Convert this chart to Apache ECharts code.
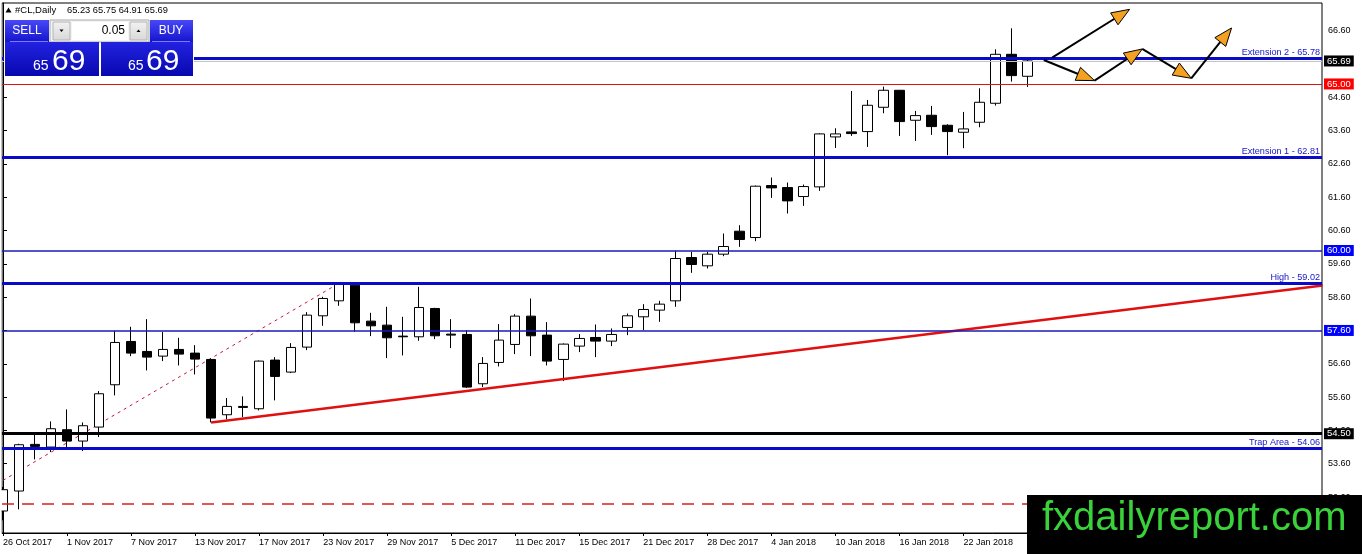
<!DOCTYPE html>
<html><head><meta charset="utf-8">
<script src="https://cdn.jsdelivr.net/npm/echarts@6/dist/echarts.min.js"></script>
<style>html,body{margin:0;padding:0;background:#fff;}#c{width:1362px;height:554px;}</style>
</head><body><div id="c"></div>
<script>
const dates = ['26 Oct 2017','27 Oct 2017','30 Oct 2017','31 Oct 2017','1 Nov 2017','2 Nov 2017','3 Nov 2017','6 Nov 2017','7 Nov 2017','8 Nov 2017','9 Nov 2017','10 Nov 2017','13 Nov 2017','14 Nov 2017','15 Nov 2017','16 Nov 2017','17 Nov 2017','20 Nov 2017','21 Nov 2017','22 Nov 2017','23 Nov 2017','24 Nov 2017','27 Nov 2017','28 Nov 2017','29 Nov 2017','30 Nov 2017','1 Dec 2017','4 Dec 2017','5 Dec 2017','6 Dec 2017','7 Dec 2017','8 Dec 2017','11 Dec 2017','12 Dec 2017','13 Dec 2017','14 Dec 2017','15 Dec 2017','18 Dec 2017','19 Dec 2017','20 Dec 2017','21 Dec 2017','22 Dec 2017','26 Dec 2017','27 Dec 2017','28 Dec 2017','29 Dec 2017','2 Jan 2018','3 Jan 2018','4 Jan 2018','5 Jan 2018','8 Jan 2018','9 Jan 2018','10 Jan 2018','11 Jan 2018','12 Jan 2018','15 Jan 2018','16 Jan 2018','17 Jan 2018','18 Jan 2018','19 Jan 2018','22 Jan 2018','23 Jan 2018','24 Jan 2018','25 Jan 2018','26 Jan 2018'];
const opens  = [52.18,52.78,54.18,54.10,54.62,54.28,54.70,55.97,57.27,56.97,56.83,57.03,56.92,56.73,55.07,55.32,55.25,56.71,56.35,57.10,58.04,58.49,58.96,57.88,57.76,57.43,57.41,58.26,57.49,57.48,56.00,56.64,57.18,58.03,57.46,56.73,57.13,57.39,57.28,57.69,58.01,58.21,58.49,59.79,59.54,59.89,60.58,60.39,61.95,61.89,61.62,61.91,63.41,63.56,63.57,64.30,64.81,63.91,64.06,63.76,63.55,63.85,64.42,65.89,65.23];
const closes = [52.82,54.17,54.12,54.65,54.28,54.74,55.70,57.24,56.92,56.80,57.03,56.89,56.74,54.97,55.32,55.29,56.68,56.22,57.09,58.06,58.56,58.99,57.83,57.74,57.38,57.41,58.29,57.44,57.46,55.90,56.61,57.31,58.03,57.44,56.68,57.19,57.36,57.28,57.48,58.04,58.23,58.39,59.76,59.58,59.89,60.12,60.33,61.93,61.88,61.49,61.92,63.50,63.50,63.51,64.36,64.81,63.87,64.05,63.72,63.57,63.65,64.45,65.89,65.25,65.69];
const lows   = [51.90,52.23,53.73,53.95,54.05,53.98,54.40,55.65,56.83,56.40,56.68,56.55,56.28,54.84,54.93,55.00,55.20,55.50,56.32,57.01,57.74,58.34,57.56,57.43,56.77,56.85,57.29,57.34,57.07,55.87,55.90,56.52,56.89,56.83,56.55,56.08,56.95,56.80,57.13,57.46,57.61,57.86,58.31,59.33,59.46,59.83,60.11,60.28,61.58,61.11,61.34,61.79,63.08,63.44,63.11,64.12,63.44,63.29,63.47,62.86,63.07,63.70,64.35,65.07,64.91];
const highs  = [52.90,54.20,54.50,54.87,55.23,54.84,55.78,57.59,57.71,57.94,57.55,57.38,57.16,56.76,55.57,55.62,56.70,56.80,57.22,58.15,58.61,59.02,59.00,58.13,58.31,58.01,58.91,58.28,57.94,57.61,56.80,57.79,58.09,58.56,57.85,57.21,57.49,57.78,57.66,58.11,58.39,58.49,59.99,59.96,59.96,60.51,60.76,61.95,62.19,62.04,61.98,63.52,63.67,64.79,64.52,64.92,64.82,64.19,64.34,63.79,64.16,64.87,66.04,66.67,65.75];

const yTickValues = [52.6,53.6,54.6,55.6,56.6,57.6,58.6,59.6,60.6,61.6,62.6,63.6,64.6,65.6,66.6];
const xLabelIdx = [0,4,8,12,16,20,24,28,32,36,40,44,48,52,56,60];
const xTickIdx = [0,4,8,12,16,20,24,28,32,36,40,44,48,52,56,60,64,68,72,76,80];

const levelValues = [65.78, 65.69, 65.00, 62.81, 60.00, 59.02, 57.60, 54.50, 54.06, 52.41];
const levelNames  = ['Extension 2 - 65.78','','','Extension 1 - 62.81','','High - 59.02','','','Trap Area - 54.06',''];

const trendX = [13, 82.44];
const trendY = [54.84, 58.95];
const dotX = [0, 21];
const dotY = [53.10, 59.02];

const arrowSegments = [
  [65.54, 65.79, 70.38, 67.24],
  [65.02, 65.72, 68.19, 65.10],
  [68.19, 65.10, 71.17, 66.05],
  [71.17, 66.05, 74.23, 65.17],
  [74.23, 65.17, 76.75, 66.68]
];

const symbolName = '#CL,Daily';

// ---- build series data from arrays ----
const candleData = dates.map((d, i) => [i, opens[i], closes[i], lows[i], highs[i]]);
const trendData = trendX.map((x, i) => [x, trendY[i]]);
const dotData = dotX.map((x, i) => [x, dotY[i]]);
const last = candleData.length - 1;
const headerText = [opens[last], highs[last], lows[last], closes[last]].map(v => v.toFixed(2)).join(' ');
const lastStr = closes[last].toFixed(2).split('.');

const FONT = '"Liberation Sans", Arial, sans-serif';
const BLUE = '#0a0acb';
const THINBLUE = '#1b1bb8';

// level styles (by index into levelValues)
const levelStyle = [
  {color: BLUE, width: 3, type: 'solid', box: null},
  {color: '#c4c4c4', width: 1, type: 'solid', box: '#000000'},
  {color: '#d81414', width: 1, type: 'solid', box: '#ff0000'},
  {color: BLUE, width: 3, type: 'solid', box: null},
  {color: THINBLUE, width: 1.5, type: 'solid', box: '#0000ff'},
  {color: BLUE, width: 3, type: 'solid', box: null},
  {color: THINBLUE, width: 1.5, type: 'solid', box: '#0000ff'},
  {color: '#000000', width: 3, type: 'solid', box: '#000000'},
  {color: BLUE, width: 3, type: 'solid', box: null},
  {color: '#d42020', width: 1.5, type: [12, 8], box: null}
];

const markLineData = levelValues.map((v, i) => {
  const st = levelStyle[i];
  const item = {
    yAxis: v,
    lineStyle: {color: st.color, width: st.width, type: st.type},
    label: {show: false}
  };
  if (st.box) {
    item.label = {
      show: true, position: 'end', distance: 2,
      formatter: v.toFixed(2),
      color: '#ffffff', backgroundColor: st.box,
      padding: [1, 3, 0, 3], fontSize: 9.5, fontFamily: FONT
    };
  } else if (levelNames[i]) {
    item.label = {
      show: true, position: 'insideEndTop', distance: [2, 1],
      formatter: levelNames[i], color: '#1515c8', fontSize: 9.1, fontFamily: FONT
    };
  }
  return item;
});

const chart = echarts.init(document.getElementById('c'), null, {renderer: 'canvas'});

function grad(c1, c2) {
  return new echarts.graphic.LinearGradient(0, 0, 0, 1, [{offset: 0, color: c1}, {offset: 1, color: c2}]);
}

const graphics = [
  // white margin left of the plot frame (hides the partial first candle outside the frame)
  {type: 'rect', z: 50, shape: {x: 0, y: 0, width: 1.5, height: 554}, style: {fill: '#ffffff'}},
  // header
  {type: 'polygon', z: 100, shape: {points: [[5.5, 12.5], [8.5, 7.5], [11.5, 12.5]]}, style: {fill: '#000'}},
  {type: 'text', z: 100, x: 15, y: 10, style: {text: symbolName, font: '9.5px ' + FONT, fill: '#000', textVerticalAlign: 'middle'}},
  {type: 'text', z: 100, x: 67, y: 10, style: {text: headerText, font: '9.3px ' + FONT, fill: '#000', textVerticalAlign: 'middle'}},
  // backing
  {type: 'rect', z: 99, shape: {x: 4, y: 19, width: 190, height: 58}, style: {fill: '#ffffff'}},
  // SELL button
  {type: 'rect', z: 100, shape: {x: 5, y: 20, width: 44, height: 22}, style: {fill: grad('#4848f8', '#1414cc')}},
  {type: 'line', z: 101, shape: {x1: 10, y1: 41.5, x2: 48, y2: 41.5}, style: {stroke: '#7a7aff', lineWidth: 1}},
  {type: 'text', z: 101, x: 27, y: 31, style: {text: 'SELL', font: '12px ' + FONT, fill: '#fff', textAlign: 'center', textVerticalAlign: 'middle'}},
  // spin control
  {type: 'rect', z: 100, shape: {x: 50, y: 20, width: 99, height: 22}, style: {fill: '#f4f4f4', stroke: '#a8a8a8', lineWidth: 1}},
  {type: 'rect', z: 101, shape: {x: 53, y: 22, width: 17, height: 18}, style: {fill: grad('#f2f2f2', '#d8d8d8'), stroke: '#b4b4b4', lineWidth: 1}},
  {type: 'rect', z: 101, shape: {x: 72, y: 22, width: 56, height: 18}, style: {fill: '#ffffff'}},
  {type: 'rect', z: 101, shape: {x: 130, y: 22, width: 17, height: 18}, style: {fill: grad('#f2f2f2', '#d8d8d8'), stroke: '#b4b4b4', lineWidth: 1}},
  {type: 'polygon', z: 102, shape: {points: [[59.5, 29.5], [63.5, 29.5], [61.5, 32]]}, style: {fill: '#000'}},
  {type: 'polygon', z: 102, shape: {points: [[136.5, 32], [140.5, 32], [138.5, 29.5]]}, style: {fill: '#000'}},
  {type: 'text', z: 102, x: 125, y: 31, style: {text: '0.05', font: '12px ' + FONT, fill: '#000', textAlign: 'right', textVerticalAlign: 'middle'}},
  // BUY button
  {type: 'rect', z: 100, shape: {x: 150, y: 20, width: 43, height: 22}, style: {fill: grad('#4848f8', '#1414cc')}},
  {type: 'line', z: 101, shape: {x1: 152, y1: 41.5, x2: 190, y2: 41.5}, style: {stroke: '#7a7aff', lineWidth: 1}},
  {type: 'text', z: 101, x: 171, y: 31, style: {text: 'BUY', font: '12px ' + FONT, fill: '#fff', textAlign: 'center', textVerticalAlign: 'middle'}},
  // price panels
  {type: 'rect', z: 100, shape: {x: 5, y: 42, width: 94, height: 34}, style: {fill: grad('#2222e0', '#0808b0')}},
  {type: 'rect', z: 100, shape: {x: 101, y: 42, width: 92, height: 34}, style: {fill: grad('#2222e0', '#0808b0')}},
  {type: 'text', z: 101, x: 33, y: 66.5, style: {text: lastStr[0], font: '14px ' + FONT, fill: '#fff', textVerticalAlign: 'middle'}},
  {type: 'text', z: 101, x: 52, y: 61.5, style: {text: lastStr[1], font: '30px ' + FONT, fill: '#fff', textVerticalAlign: 'middle'}},
  {type: 'text', z: 101, x: 128, y: 66.5, style: {text: lastStr[0], font: '14px ' + FONT, fill: '#fff', textVerticalAlign: 'middle'}},
  {type: 'text', z: 101, x: 146, y: 61.5, style: {text: lastStr[1], font: '30px ' + FONT, fill: '#fff', textVerticalAlign: 'middle'}},
  // logo
  {type: 'rect', z: 100, shape: {x: 1027, y: 495, width: 335, height: 59}, style: {fill: '#000'}},
  {type: 'text', z: 101, x: 1042, y: 519, style: {text: 'fxdailyreport.com', font: '40px ' + FONT, fill: '#3ad23a', textVerticalAlign: 'middle'}}
];

const option = {
  animation: false,
  backgroundColor: '#ffffff',
  grid: {left: 2, top: 3, width: 1320, height: 530, show: true, borderColor: '#000', borderWidth: 1, backgroundColor: 'transparent'},
  xAxis: {
    type: 'value', min: -0.06, max: 82.4,
    axisLine: {show: true, onZero: false, lineStyle: {color: '#000', width: 1}},
    axisTick: {show: true, customValues: xTickIdx, length: 3, lineStyle: {color: '#000'}},
    axisLabel: {customValues: xLabelIdx, formatter: v => dates[Math.round(v)] || '', align: 'left', color: '#000', fontSize: 9, fontFamily: FONT, margin: 5},
    splitLine: {show: false}
  },
  yAxis: {
    type: 'value', position: 'right', min: 51.52, max: 67.43,
    axisLine: {show: true, lineStyle: {color: '#000', width: 1}},
    axisTick: {show: true, customValues: yTickValues, length: 4, lineStyle: {color: '#000'}},
    axisLabel: {customValues: yTickValues, formatter: v => v.toFixed(2), color: '#000', fontSize: 9, fontFamily: FONT, margin: 6},
    splitLine: {show: false}
  },
  series: [
    {
      type: 'line', data: dotData, symbol: 'none', silent: true, z: 1, clip: true,
      lineStyle: {color: '#c8163c', width: 1, type: [3, 4]}
    },
    {
      type: 'candlestick', data: candleData, barWidth: 10, z: 3, clip: true,
      emphasis: {disabled: true},
      itemStyle: {color: '#ffffff', color0: '#000000', borderColor: '#000000', borderColor0: '#000000', borderWidth: 1}
    },
    {
      type: 'line', data: trendData, symbol: 'none', silent: true, z: 4, clip: true,
      lineStyle: {color: '#e01010', width: 2.5},
      markLine: {silent: true, symbol: ['none', 'none'], animation: false, data: markLineData}
    },
    {
      type: 'custom', data: arrowSegments, z: 10, silent: true,
      dimensions: ['x1', 'y1', 'x2', 'y2'],
      encode: {x: [0, 2], y: [1, 3]},
      renderItem: function (params, api) {
        const p1 = api.coord([api.value(0), api.value(1)]);
        const p2 = api.coord([api.value(2), api.value(3)]);
        const dx = p2[0] - p1[0], dy = p2[1] - p1[1];
        const len = Math.sqrt(dx * dx + dy * dy);
        const ux = dx / len, uy = dy / len;
        const hl = 18, hw = 7;
        const bx = p2[0] - ux * hl, by = p2[1] - uy * hl;
        const px = -uy, py = ux;
        return {
          type: 'group', children: [
            {type: 'line', shape: {x1: p1[0], y1: p1[1], x2: bx + ux * 3, y2: by + uy * 3}, style: {stroke: '#000', lineWidth: 2}},
            {type: 'polygon', shape: {points: [[p2[0], p2[1]], [bx + px * hw, by + py * hw], [bx - px * hw, by - py * hw]]}, style: {fill: '#f4a020', stroke: '#000', lineWidth: 1}}
          ]
        };
      }
    }
  ],
  graphic: {elements: graphics}
};
chart.setOption(option);
</script>
</body></html>
